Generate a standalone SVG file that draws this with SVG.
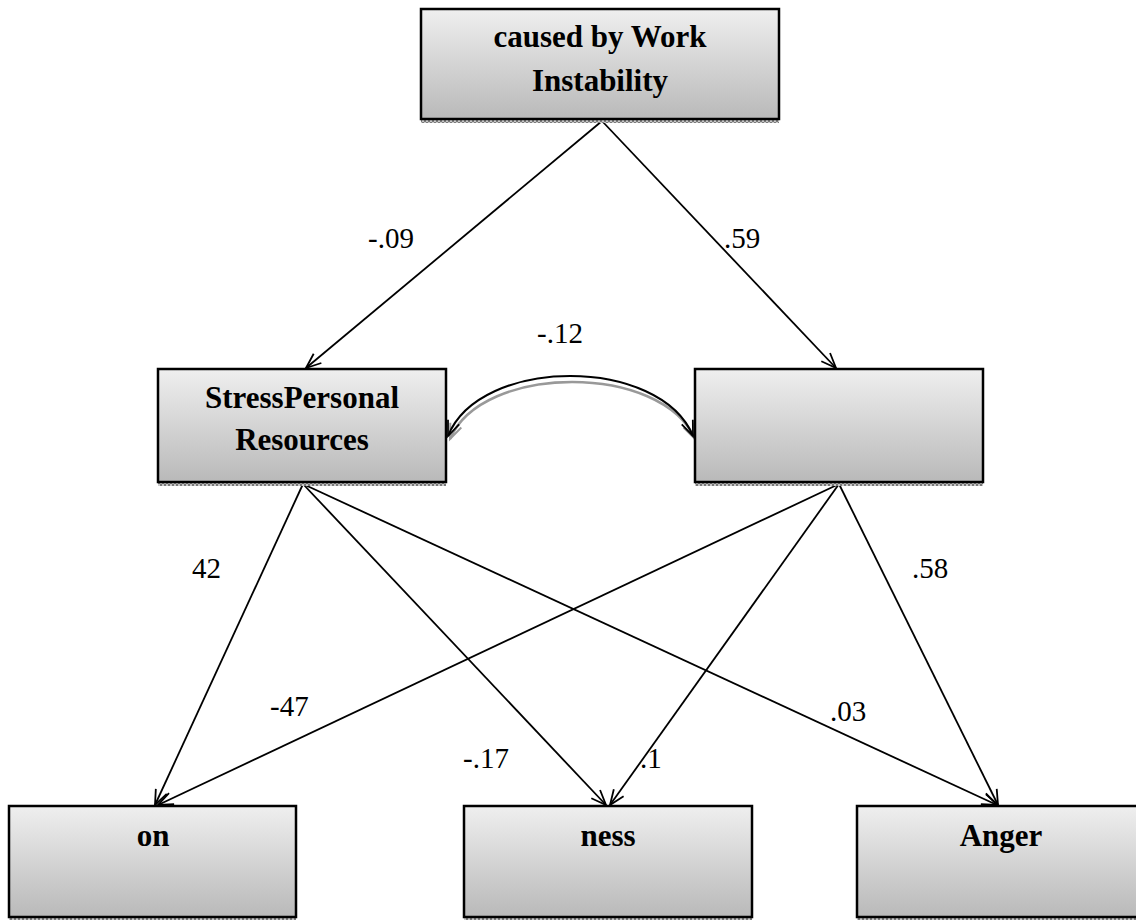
<svg xmlns="http://www.w3.org/2000/svg" width="1136" height="920" viewBox="0 0 1136 920">
<defs>
<linearGradient id="g" x1="0" y1="0" x2="0" y2="1">
<stop offset="0" stop-color="#efefef"/>
<stop offset="1" stop-color="#b9b9b9"/>
</linearGradient>
<pattern id="sh" width="4" height="4" patternUnits="userSpaceOnUse">
<rect width="4" height="4" fill="#c8c8c8"/>
<rect width="2" height="2" fill="#7a7a7a"/>
<rect x="2" y="2" width="2" height="2" fill="#7a7a7a"/>
</pattern>
<marker id="ah" markerWidth="20" markerHeight="20" refX="16" refY="7" orient="auto-start-reverse" markerUnits="userSpaceOnUse">
<path d="M1,1 L16,7 L1,13" fill="none" stroke="#000" stroke-width="1.8"/>
</marker>
<marker id="ahg" markerWidth="20" markerHeight="20" refX="16" refY="7" orient="auto-start-reverse" markerUnits="userSpaceOnUse">
<path d="M1,1 L16,7 L1,13" fill="none" stroke="#999" stroke-width="2"/>
</marker>
</defs>
<style>
.box{fill:url(#g);stroke:#000;stroke-width:2.5}
.shadow{fill:url(#sh)}
.bt{font-family:"Liberation Serif",serif;font-weight:bold;font-size:31px;text-anchor:middle;fill:#000}
.lb{font-family:"Liberation Serif",serif;font-size:29px;fill:#000}
.c{stroke:#000;stroke-width:1.8;fill:none;marker-end:url(#ah)}
</style>
<g id="connectors">
<line class="c" x1="602" y1="121" x2="306" y2="368"/>
<line class="c" x1="602" y1="121" x2="836" y2="368"/>
<line class="c" x1="303" y1="484" x2="155" y2="805"/>
<line class="c" x1="303" y1="484" x2="606" y2="805"/>
<line class="c" x1="303" y1="484" x2="997" y2="805"/>
<line class="c" x1="839" y1="484" x2="158" y2="805"/>
<line class="c" x1="839" y1="484" x2="610" y2="805"/>
<line class="c" x1="839" y1="484" x2="998" y2="805"/>
<path d="M450,439 C482,363 662,363 695,439" fill="none" stroke="#999" stroke-width="2.5" marker-start="url(#ahg)" marker-end="url(#ahg)"/>
<path d="M448,436 C480,356 660,356 693,436" fill="none" stroke="#000" stroke-width="2" marker-start="url(#ah)" marker-end="url(#ah)"/>
</g>
<g id="labels">
<text class="lb" x="368" y="248">-.09</text>
<text class="lb" x="724" y="248">.59</text>
<text class="lb" x="537" y="343">-.12</text>
<text class="lb" x="192" y="578">42</text>
<text class="lb" x="912" y="578">.58</text>
<text class="lb" x="270" y="716">-47</text>
<text class="lb" x="830" y="721">.03</text>
<text class="lb" x="463" y="768">-.17</text>
<text class="lb" x="640" y="768">.1</text>
</g>
<g id="node-top">
<rect class="shadow" x="421" y="119" width="358" height="4"/>
<rect class="box" x="421" y="9" width="358" height="110"/>
<text class="bt" x="600" y="47">caused by Work</text>
<text class="bt" x="600" y="91">Instability</text>
</g>
<g id="node-personal">
<rect class="shadow" x="158" y="482" width="288" height="4"/>
<rect class="box" x="158" y="369" width="288" height="113"/>
<text class="bt" x="302" y="408">StressPersonal</text>
<text class="bt" x="302" y="450">Resources</text>
</g>
<g id="node-right">
<rect class="shadow" x="695" y="482" width="288" height="4"/>
<rect class="box" x="695" y="369" width="288" height="113"/>
</g>
<g id="node-on">
<rect class="shadow" x="9" y="917" width="287" height="3"/>
<rect class="box" x="9" y="806" width="287" height="111"/>
<text class="bt" x="153" y="846">on</text>
</g>
<g id="node-ness">
<rect class="shadow" x="464" y="917" width="288" height="3"/>
<rect class="box" x="464" y="806" width="288" height="111"/>
<text class="bt" x="608" y="846">ness</text>
</g>
<g id="node-anger">
<rect class="shadow" x="857" y="917" width="288" height="3"/>
<rect class="box" x="857" y="806" width="288" height="111"/>
<text class="bt" x="1001" y="846">Anger</text>
</g>
</svg>
